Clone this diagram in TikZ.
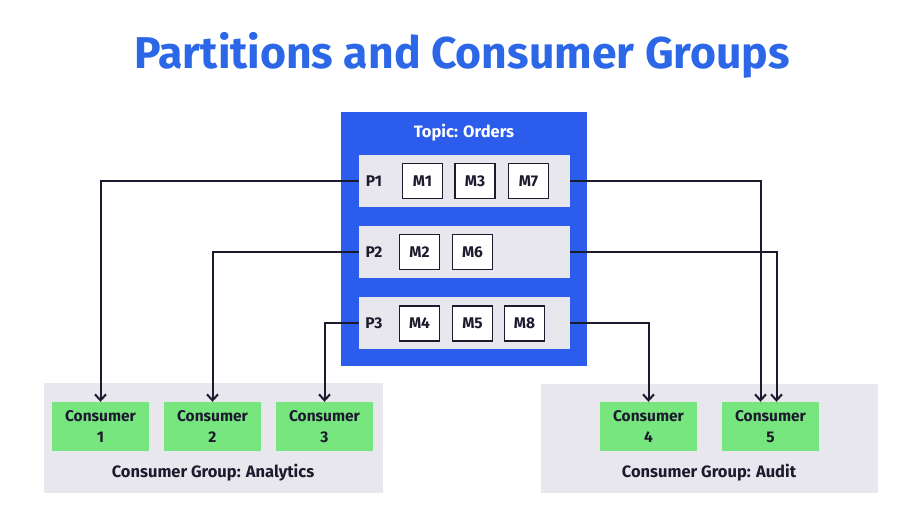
\documentclass[tikz,border=0pt]{standalone}
\usepackage{fontspec}
\setmainfont{Fira Sans}
\usetikzlibrary{arrows.meta}
\definecolor{titleblue}{HTML}{2C67E8}
\definecolor{topicblue}{HTML}{2B5CEB}
\definecolor{lightgray}{HTML}{E9E7EE}
\definecolor{consgreen}{HTML}{77E67F}
\definecolor{ink}{HTML}{1C1B2E}
\tikzset{
  topicbox/.style={fill=topicblue, minimum width=246pt, minimum height=254pt, inner sep=0pt},
  partbox/.style={fill=lightgray, minimum width=211pt, minimum height=52pt, inner sep=0pt},
  msgbox/.style={draw=ink, fill=white, line width=1.6pt, minimum width=40pt, minimum height=35pt, inner sep=0pt, font=\fontsize{15.5}{18}\selectfont\bfseries, text=ink},
  plabel/.style={font=\fontsize{15.5}{18}\selectfont\bfseries, text=ink},
  consbox/.style={fill=consgreen, minimum width=97pt, minimum height=49pt, inner sep=0pt, align=center, font=\fontsize{15.5}{21}\selectfont\bfseries, text=ink},
  groupbox/.style={fill=lightgray, inner sep=0pt},
  grouplabel/.style={font=\fontsize{16.5}{18}\selectfont\bfseries, text=ink},
  conn/.style={draw=ink, line width=2pt, -{Straight Barb[length=6pt,width=11pt,line width=2pt]}}
}
\begin{document}
\begin{tikzpicture}[x=1pt,y=-1pt]
\useasboundingbox (0,0) rectangle (920,532);
\fill[white] (0,0) rectangle (920,532);
\node[font=\fontsize{44.5}{50}\selectfont\bfseries, text=titleblue] (title) at (462,55) {Partitions and Consumer Groups};

\node[topicbox] (topic) at (464,239) {};
\node[font=\fontsize{16.5}{18}\selectfont\bfseries, text=white] (topictitle) at (464,133) {Topic: Orders};

\node[partbox] (P1) at (464.5,181) {};
\node[partbox] (P2) at (464.5,252) {};
\node[partbox] (P3) at (464.5,323) {};
\node[plabel] (P1l) at (374,181) {P1};
\node[plabel] (P2l) at (374,252) {P2};
\node[plabel] (P3l) at (374,323) {P3};

\node[msgbox] (M1) at (422.5,181) {M1};
\node[msgbox] (M3) at (475,181) {M3};
\node[msgbox] (M7) at (528.5,181) {M7};
\node[msgbox] (M2) at (419.5,252) {M2};
\node[msgbox] (M6) at (472.5,252) {M6};
\node[msgbox] (M4) at (419.5,323.5) {M4};
\node[msgbox] (M5) at (472.5,323.5) {M5};
\node[msgbox] (M8) at (524.5,323.5) {M8};

\node[groupbox, minimum width=339pt, minimum height=110pt] (ga) at (213.5,438) {};
\node[groupbox, minimum width=337pt, minimum height=109pt] (gb) at (709.5,438.5) {};

\node[consbox] (C1) at (100.5,426.5) {Consumer\\1};
\node[consbox] (C2) at (212.5,426.5) {Consumer\\2};
\node[consbox] (C3) at (324.5,426.5) {Consumer\\3};
\node[consbox] (C4) at (648.5,426.5) {Consumer\\4};
\node[consbox] (C5) at (770.5,426.5) {Consumer\\5};

\node[grouplabel] (gal) at (213,473) {Consumer Group: Analytics};
\node[grouplabel] (gbl) at (709,473) {Consumer Group: Audit};

\draw[conn] (P1.west) -| (C1.north);
\draw[conn] (P2.west) -| (C2.north);
\draw[conn] (P3.west) -| (C3.north);
\draw[conn] (P3.east) -| (C4.north);
\draw[conn] (P1.east) -| ([xshift=-10pt]C5.north);
\draw[conn] (P2.east) -| ([xshift=6pt]C5.north);
\end{tikzpicture}
\end{document}
